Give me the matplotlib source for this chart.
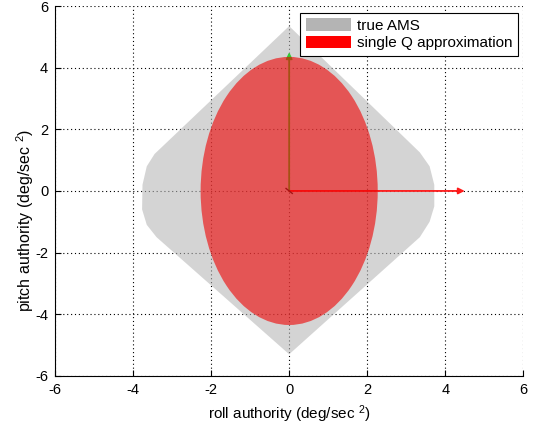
import numpy as np
import matplotlib
matplotlib.use("Agg")
import matplotlib.pyplot as plt
from matplotlib.patches import Polygon, Ellipse, Patch

plt.rcParams['font.family'] = ['Liberation Sans', 'DejaVu Sans']
plt.rcParams['mathtext.fontset'] = 'custom'
plt.rcParams['mathtext.rm'] = 'Liberation Sans'
plt.rcParams['mathtext.it'] = 'Liberation Sans'
plt.rcParams['axes.unicode_minus'] = False

# true attainable moment set (roll, pitch) outline
ams_roll = [0.0, -3.45, -3.65, -3.76, -3.77, -3.65, -3.40, 0.0,
            3.35, 3.60, 3.72, 3.72, 3.60, 3.35]
ams_pitch = [5.35, 1.20, 0.80, 0.20, -0.60, -1.10, -1.50, -5.30,
             -1.50, -1.00, -0.50, 0.20, 0.80, 1.25]

# single Q ellipse
ell_center = (0.0, 0.0)
ell_roll_half = 2.27
ell_pitch_half = 4.35

# authority vectors
arrow_u = [0.0, 4.5, 0.08]
arrow_v = [4.5, 0.0, -0.08]
arrow_colors = ['#33cc33', '#ff1a1a', '#333333']

ticks = [-6, -4, -2, 0, 2, 4, 6]

fig = plt.figure(figsize=(5.35, 4.32), dpi=100)
ax = fig.add_axes([0.103, 0.130, 0.875, 0.856])

ax.add_patch(Polygon(np.column_stack([ams_roll, ams_pitch]), closed=True,
                     facecolor='#b4b4b4', edgecolor='none', alpha=0.57, zorder=2))

for u, v, c in zip(arrow_u, arrow_v, arrow_colors):
    if abs(u) + abs(v) > 1:
        ax.annotate('', xy=(u, v), xytext=(0, 0),
                    arrowprops=dict(arrowstyle='-|>', color=c, lw=1.3,
                                    mutation_scale=9, shrinkA=0, shrinkB=0),
                    zorder=3)
    else:
        ax.plot([-u, u], [-v, v], color=c, lw=1.0, zorder=3)

ax.add_patch(Ellipse(ell_center, 2 * ell_roll_half, 2 * ell_pitch_half,
                     facecolor='#f00000', edgecolor='none', alpha=0.6, zorder=4))

ax.set_xlim(-6, 6)
ax.set_ylim(-6, 6)
ax.set_xticks(ticks)
ax.set_yticks(ticks)
ax.grid(True, linestyle=(0, (1, 2.5)), color='black', linewidth=0.8)
ax.set_axisbelow(True)
for s in ['top', 'right']:
    ax.spines[s].set_visible(False)
ax.tick_params(direction='in', length=4, labelsize=10.5, pad=5)

ax.set_xlabel(r'roll authority (deg/sec $^{2}$)', fontsize=11, labelpad=5)
ax.set_ylabel(r'pitch authority (deg/sec $^{2}$)', fontsize=11.5)
ax.yaxis.set_label_coords(-0.04, 0.42)

handles = [Patch(facecolor='#b4b4b4', edgecolor='none', label='true AMS'),
           Patch(facecolor='#ff0000', edgecolor='none', label='single Q approximation')]
leg = ax.legend(handles=handles, loc='upper right', bbox_to_anchor=(0.988, 0.982),
                fontsize=11, fancybox=False, framealpha=1, edgecolor='black',
                handlelength=3.0, handleheight=0.9, borderpad=0.35,
                labelspacing=0.2, handletextpad=0.35, borderaxespad=0)
leg.get_frame().set_linewidth(0.8)

fig.savefig('out.png', dpi=100)
